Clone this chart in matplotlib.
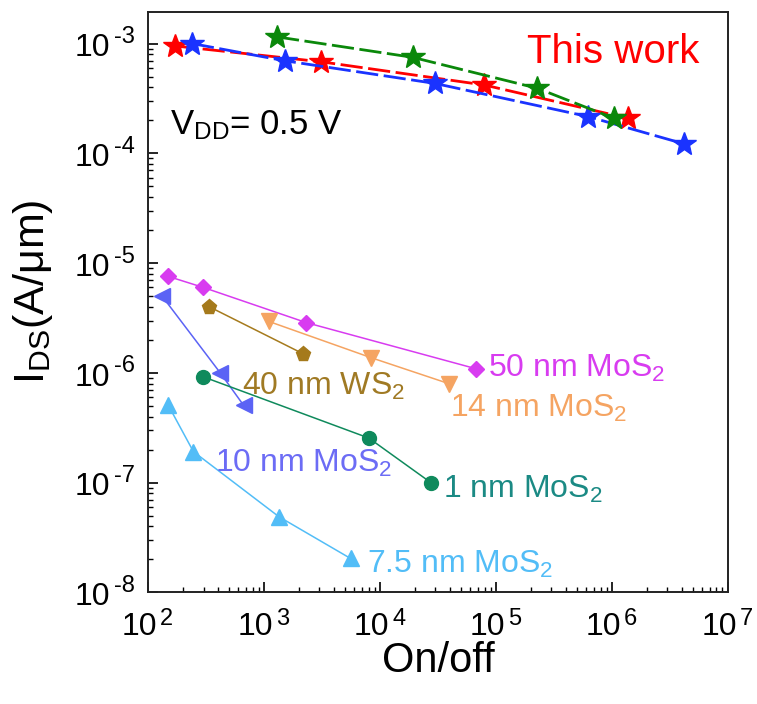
import matplotlib
matplotlib.use('Agg')
import matplotlib.pyplot as plt
from matplotlib.ticker import NullFormatter

plt.rcParams['font.family'] = ['Liberation Sans', 'DejaVu Sans']
plt.rcParams['mathtext.fontset'] = 'custom'
plt.rcParams['mathtext.rm'] = 'Liberation Sans'
plt.rcParams['mathtext.it'] = 'Liberation Sans:italic'
plt.rcParams['mathtext.bf'] = 'Liberation Sans:bold'
plt.rcParams['mathtext.default'] = 'regular'

# this work (stars)
red_x = [170, 3.07e3, 7.95e4, 1.39e6]
red_y = [9.5e-4, 6.83e-4, 4.19e-4, 2.08e-4]
blue_x = [238, 1.5e3, 2.98e4, 6.25e5, 4.2e6]
blue_y = [1.0e-3, 6.97e-4, 4.33e-4, 2.16e-4, 1.22e-4]
green_x = [1.29e3, 1.91e4, 2.28e5, 1.05e6]
green_y = [1.15e-3, 7.49e-4, 3.91e-4, 2.08e-4]

# literature devices
mos2_50_x = [149, 299, 2.31e3, 6.75e4]
mos2_50_y = [7.56e-6, 6.0e-6, 2.87e-6, 1.09e-6]
ws2_40_x = [336, 2.15e3]
ws2_40_y = [4.0e-6, 1.5e-6]
mos2_14_x = [1.09e3, 8.3e3, 3.9e4]
mos2_14_y = [2.95e-6, 1.38e-6, 8.0e-7]
mos2_10_x = [131, 418, 665]
mos2_10_y = [5.03e-6, 1.0e-6, 5.06e-7]
mos2_1_x = [299, 8.0e3, 2.75e4]
mos2_1_y = [9.2e-7, 2.55e-7, 1.0e-7]
mos2_75_x = [149, 245, 1.34e3, 5.57e3]
mos2_75_y = [5.06e-7, 1.92e-7, 4.9e-8, 2.04e-8]

x_exps = [2, 3, 4, 5, 6, 7]
y_exps = [-8, -7, -6, -5, -4, -3]

fig = plt.figure(figsize=(7.57, 7.04), dpi=100)
ax = fig.add_axes([0.1959, 0.1584, 0.7654, 0.825])

dash = (0, (8, 2))
ax.plot(red_x, red_y, color='#ff0000', ls=dash, lw=2, marker='*', ms=18, zorder=3)
ax.plot(blue_x, blue_y, color='#1a33ff', ls=dash, lw=2, marker='*', ms=18, zorder=4)
ax.plot(green_x, green_y, color='#0a880a', ls=dash, lw=2, marker='*', ms=18, zorder=5)

ax.plot(mos2_50_x, mos2_50_y, color='#d83cf0', lw=1.1, marker='D', ms=8)
ax.plot(ws2_40_x, ws2_40_y, color='#a57a1c', lw=1.1, marker='p', ms=11)
ax.plot(mos2_14_x, mos2_14_y, color='#f5a462', lw=1.1, marker='v', ms=12)
ax.plot(mos2_10_x, mos2_10_y, color='#5b63f5', lw=1.1, marker='<', ms=12)
ax.plot(mos2_1_x, mos2_1_y, color='#0f8a5c', lw=1.1, marker='o', ms=10)
ax.plot(mos2_75_x, mos2_75_y, color='#52bdf7', lw=1.1, marker='^', ms=12)

ax.set_xscale('log')
ax.set_yscale('log')
ax.set_xlim(1e2, 1e7)
ax.set_ylim(1e-8, 1.95e-3)

# tick labels drawn by hand so the exponent can be larger than mathtext allows
for axis in (ax.xaxis, ax.yaxis):
    axis.set_major_formatter(NullFormatter())
    axis.set_minor_formatter(NullFormatter())
for e in x_exps:
    xy = (10.0 ** e, 0)
    ax.annotate('10', xy, xycoords=('data', 'axes fraction'), xytext=(6.7, -30.6),
                textcoords='offset points', ha='right', va='baseline', fontsize=23)
    ax.annotate(str(e), xy, xycoords=('data', 'axes fraction'), xytext=(8.6, -23.4),
                textcoords='offset points', ha='left', va='baseline', fontsize=17)
for e in y_exps:
    xy = (0, 10.0 ** e)
    ax.annotate('10', xy, xycoords=('axes fraction', 'data'), xytext=(-27.4, -9.1),
                textcoords='offset points', ha='right', va='baseline', fontsize=23)
    ax.annotate(str(e), xy, xycoords=('axes fraction', 'data'), xytext=(-9.4, 0.4),
                textcoords='offset points', ha='right', va='baseline', fontsize=17)

ax.text(0.653, 0.911, 'This work', color='#ff0000', fontsize=29, transform=ax.transAxes)
ax.text(0.0375, 0.789, 'V$_{DD}$= 0.5 V', color='black', fontsize=25, transform=ax.transAxes)
ax.text(0.587, 0.3705, '50 nm MoS$_2$', color='#d83cf0', fontsize=23, transform=ax.transAxes)
ax.text(0.5207, 0.3027, '14 nm MoS$_2$', color='#f5a462', fontsize=23, transform=ax.transAxes)
ax.text(0.509, 0.162, '1 nm MoS$_2$', color='#1b8a84', fontsize=23, transform=ax.transAxes)
ax.text(0.161, 0.3401, '40 nm WS$_2$', color='#a07a24', fontsize=23, transform=ax.transAxes)
ax.text(0.115, 0.208, '10 nm MoS$_2$', color='#6c6cf5', fontsize=23, transform=ax.transAxes)
ax.text(0.377, 0.033, '7.5 nm MoS$_2$', color='#52bdf7', fontsize=23, transform=ax.transAxes)

# axis titles placed in figure coordinates
fig.text(0.5786, 0.0455, 'On/off', fontsize=30, ha='center', va='baseline')
fig.text(0.044, 0.585, 'I$_{DS}$(A/μm)', fontsize=31, rotation=90, ha='center', va='center')

ax.tick_params(which='both', direction='in', top=False, right=False)
ax.tick_params(which='major', length=7, width=1.2)
ax.tick_params(which='minor', length=3.5, width=1)
for s in ax.spines.values():
    s.set_linewidth(1.4)
    s.set_color('#222222')

fig.savefig('out.png', dpi=100)
